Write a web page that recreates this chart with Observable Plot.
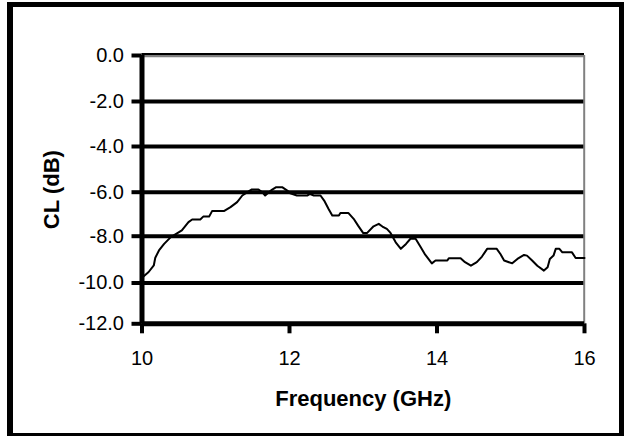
<!DOCTYPE html>
<html><head><meta charset="utf-8">
<script src="https://cdn.jsdelivr.net/npm/d3@7"></script>
<script src="https://cdn.jsdelivr.net/npm/@observablehq/plot@0.6"></script>
<style>
body{margin:0;background:#fff;}
#wrap{position:relative;width:626px;height:437px;}
#border{position:absolute;left:7px;top:2px;width:617px;height:434px;box-sizing:border-box;border-style:solid;border-color:#000;border-width:5px 5px 3px 6px;pointer-events:none;}
</style></head><body>
<div id="wrap"><div id="border"></div></div>
<script>
const freq = [10.02,10.09,10.16,10.18,10.23,10.30,10.39,10.48,10.54,10.63,10.68,10.79,10.83,10.91,10.95,11.11,11.20,11.29,11.36,11.43,11.49,11.58,11.63,11.67,11.72,11.76,11.82,11.90,11.97,12.01,12.10,12.24,12.28,12.33,12.42,12.47,12.53,12.58,12.67,12.69,12.80,12.87,12.93,13.00,13.05,13.14,13.21,13.26,13.32,13.37,13.44,13.51,13.58,13.64,13.71,13.78,13.84,13.93,13.98,14.14,14.16,14.32,14.38,14.46,14.54,14.61,14.68,14.81,14.86,14.91,15.02,15.09,15.18,15.22,15.29,15.36,15.45,15.50,15.53,15.58,15.61,15.66,15.70,15.83,15.88,16.00];
const cl = [-9.72,-9.53,-9.25,-8.92,-8.61,-8.33,-8.04,-7.86,-7.74,-7.36,-7.24,-7.24,-7.11,-7.11,-6.86,-6.86,-6.68,-6.45,-6.15,-6.00,-5.88,-5.88,-6.00,-6.15,-6.00,-5.90,-5.78,-5.78,-5.93,-6.05,-6.15,-6.15,-6.08,-6.15,-6.15,-6.38,-6.76,-7.06,-7.06,-6.95,-6.95,-7.21,-7.52,-7.86,-7.86,-7.55,-7.44,-7.56,-7.67,-7.85,-8.26,-8.54,-8.33,-8.11,-8.11,-8.47,-8.79,-9.16,-9.04,-9.04,-8.94,-8.94,-9.11,-9.26,-9.11,-8.87,-8.54,-8.54,-8.76,-9.04,-9.16,-8.97,-8.80,-8.83,-9.04,-9.26,-9.47,-9.33,-8.97,-8.83,-8.54,-8.54,-8.69,-8.69,-8.93,-8.93];
const xTicks = [10, 12, 14, 16];
const xTickLabels = ["10", "12", "14", "16"];
const yTicks = [0, -2, -4, -6, -8, -10, -12];
const yTickLabels = ["0.0", "-2.0", "-4.0", "-6.0", "-8.0", "-10.0", "-12.0"];
const gridValues = [-2, -4, -6, -8, -10];
const xTitle = "Frequency (GHz)";
const yTitle = "CL (dB)";

const data = freq.map((f, i) => ({f, v: cl[i]}));
const font = "'Liberation Sans', Arial, sans-serif";

// the reference's gridlines are not quite evenly spaced; follow them piecewise
const yWarp = d3.scaleLinear()
  .domain([-12, -10, -8, -6, -4, -2, 0])
  .range([-12, -10.175, -8.082, -6.114, -4.07, -2.057, 0]);

const chart = Plot.plot({
  width: 626,
  height: 437,
  marginLeft: 141.5,
  marginRight: 42,
  marginTop: 55,
  marginBottom: 113.7,
  style: {fontFamily: font, background: "transparent", color: "black"},
  x: {domain: [10, 16]},
  y: {domain: [-12, 0], transform: (v) => yWarp(v)},
  marks: [
    Plot.ruleY(gridValues, {x1: 10, x2: 16, stroke: "black", strokeWidth: 4}),
    Plot.ruleY([0], {x1: 10, x2: 16, stroke: "#808080", strokeWidth: 2.2, dy: 0.6}),
    Plot.ruleY([0], {x1: 10, x2: 16, stroke: "black", strokeWidth: 2, dy: -1.5}),
    Plot.ruleX([16], {y1: -12, y2: 0, stroke: "#808080", strokeWidth: 2, dx: -0.3}),
    Plot.line(data, {x: "f", y: "v", stroke: "black", strokeWidth: 2}),
    Plot.ruleY([-12], {x1: 10, x2: 16, stroke: "black", strokeWidth: 5}),
    Plot.ruleX([10], {y1: -12, y2: 0, stroke: "black", strokeWidth: 5}),
    Plot.axisY(yTicks, {tickSize: 10, tickPadding: 8, strokeWidth: 4, stroke: "black", fontSize: 20, tickFormat: (d) => yTickLabels[yTicks.indexOf(d)], label: null}),
    Plot.axisX(xTicks, {tickSize: 10, tickPadding: 17, strokeWidth: 4, stroke: "black", fontSize: 20, tickFormat: (d) => xTickLabels[xTicks.indexOf(d)], label: null}),
    Plot.text([yTitle], {frameAnchor: "left", textAnchor: "middle", dx: -90, rotate: -90, fontSize: 22, fontWeight: "bold", fill: "black"}),
    Plot.text([xTitle], {frameAnchor: "bottom", textAnchor: "middle", dy: 82, fontSize: 22, fontWeight: "bold", fill: "black"})
  ]
});
document.getElementById("wrap").prepend(chart);
chart.style.position = "absolute";
chart.style.left = "0";
chart.style.top = "0";
</script>
</body></html>
